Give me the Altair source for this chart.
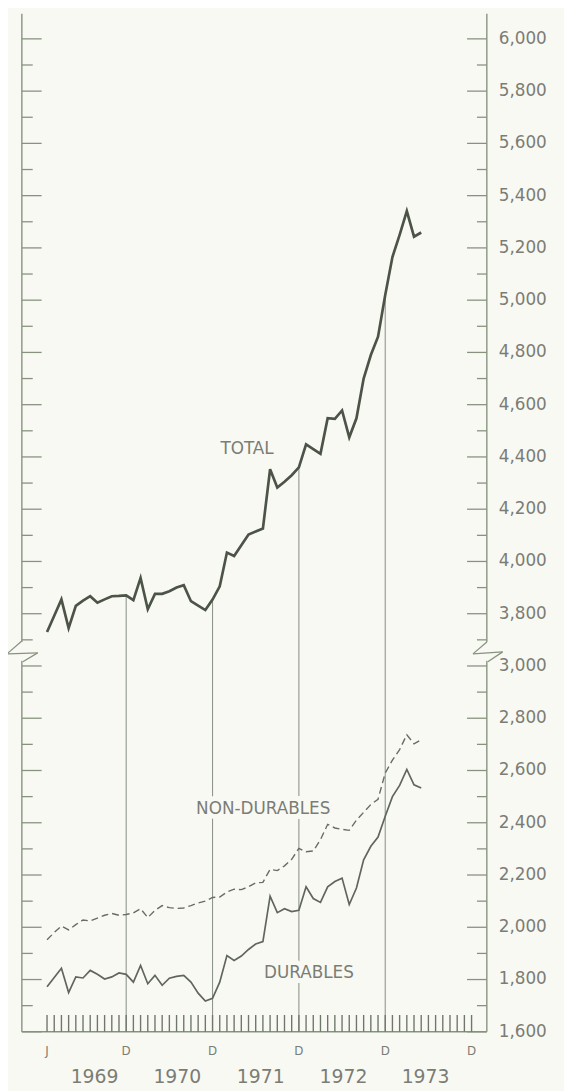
import altair as alt
import pandas as pd

# ---------------- data ----------------
# month index 0 = Jan 1969 ... 52 = May 1973
month_index = list(range(53))
total = [3730, 3792, 3855, 3745, 3830, 3850, 3867, 3842, 3855, 3867,
         3868, 3870, 3852, 3937, 3817, 3876, 3876, 3886, 3900, 3909,
         3848, 3831, 3814, 3854, 3905, 4034, 4021, 4062, 4103, 4115,
         4126, 4353, 4283, 4305, 4330, 4360, 4448, 4430, 4412, 4548,
         4546, 4578, 4475, 4548, 4700, 4790, 4860, 5020, 5165, 5250,
         5341, 5243, 5259]
non_durables = [1952, 1980, 2005, 1990, 2010, 2028, 2024, 2035, 2046, 2053,
                2046, 2049, 2055, 2071, 2037, 2065, 2083, 2075, 2072, 2074,
                2083, 2093, 2100, 2114, 2116, 2135, 2146, 2144, 2155, 2170,
                2172, 2222, 2217, 2235, 2260, 2302, 2289, 2292, 2335, 2394,
                2380, 2375, 2371, 2410, 2440, 2470, 2490, 2590, 2640, 2680,
                2737, 2702, 2718]
durables = [1772, 1808, 1843, 1750, 1810, 1806, 1835, 1820, 1802, 1810,
            1825, 1820, 1790, 1854, 1784, 1816, 1778, 1805, 1812, 1816,
            1790, 1748, 1718, 1728, 1790, 1892, 1873, 1890, 1915, 1936,
            1945, 2119, 2056, 2071, 2060, 2065, 2155, 2110, 2095, 2155,
            2175, 2188, 2087, 2150, 2258, 2310, 2345, 2425, 2500, 2543,
            2604, 2545, 2533]

BREAK_SHIFT = 600          # the upper scale (3,800+) is drawn 600 lower
december_months = [11, 23, 35, 47]

axis_label_values = [1600, 1800, 2000, 2200, 2400, 2600, 2800, 3000,
                     3200, 3400, 3600, 3800, 4000, 4200, 4400, 4600, 4800, 5000, 5200, 5400]
axis_label_texts = ["1,600", "1,800", "2,000", "2,200", "2,400", "2,600", "2,800", "3,000",
                    "3,800", "4,000", "4,200", "4,400", "4,600", "4,800", "5,000", "5,200",
                    "5,400", "5,600", "5,800", "6,000"]
major_ticks = axis_label_values
minor_ticks = [1700, 1900, 2100, 2300, 2500, 2700, 2900, 3100, 3300, 3500, 3700,
               3900, 4100, 4300, 4500, 4700, 4900, 5100, 5300]

month_letter_pos = [0, 11, 23, 35, 47, 59]
month_letters = ["J", "D", "D", "D", "D", "D"]
year_pos = [6.6, 18.1, 29.7, 41.2, 52.6]
year_labels = ["1969", "1970", "1971", "1972", "1973"]
tick_months = list(range(60))

series_label_text = ["TOTAL", "NON-DURABLES", "DURABLES"]
series_label_m = [27.8, 30.05, 36.4]
series_label_v = [3830, 2454, 1825]

# ---------------- styling ----------------
W, H = 470, 1029
BG = "#f9f9f4"
AXIS = "#87937f"
GRID = "#8f978b"
TXT = "#7b7d75"
FONT = "DejaVu Sans"

xs = alt.Scale(domain=[-3.5, 61.12], nice=False, zero=False)
ys = alt.Scale(domain=[1600, 5496], nice=False, zero=False)


def X(f, **kw):
    return alt.X(f, type="quantitative", scale=xs, axis=None, **kw)


def Y(f, **kw):
    return alt.Y(f, type="quantitative", scale=ys, axis=None, **kw)


df = pd.DataFrame({"m": month_index, "total": total, "nd": non_durables, "d": durables})
df["total_plot"] = df["total"] - BREAK_SHIFT
df["base"] = 1600
dec_df = df[df["m"].isin(december_months)]

one = pd.DataFrame({"a": [0]})

dec_rules = alt.Chart(dec_df).mark_rule(color=GRID, strokeWidth=1.1).encode(
    x=X("m"), y=Y("base"), y2="total_plot")

lab_df = pd.DataFrame({"t": series_label_text, "m": series_label_m, "v": series_label_v})
# paper-coloured halo behind the series labels (they interrupt the December lines)
bg_rects = alt.Chart(lab_df).mark_text(
    font=FONT, fontSize=17, color=BG, stroke=BG, strokeWidth=10, align="center",
    baseline="middle").encode(x=X("m"), y=Y("v"), text="t")

total_line = alt.Chart(df).mark_line(color="#4c5347", strokeWidth=2.7).encode(
    x=X("m"), y=Y("total_plot"))
nd_line = alt.Chart(df).mark_line(color="#676d62", strokeWidth=1.4, strokeDash=[7, 4]).encode(
    x=X("m"), y=Y("nd"))
d_line = alt.Chart(df).mark_line(color="#60665b", strokeWidth=1.7).encode(
    x=X("m"), y=Y("d"))

series_labels = alt.Chart(lab_df).mark_text(
    font=FONT, fontSize=17, color=TXT, align="center", baseline="middle").encode(
    x=X("m"), y=Y("v"), text="t")

# axes drawn by hand (ticks point inward)
left_axis = alt.Chart(one).mark_rule(color=AXIS, strokeWidth=1.4).encode(
    x=alt.value(0), y=alt.value(0), y2=alt.value(H))
right_axis = alt.Chart(one).mark_rule(color=AXIS, strokeWidth=1.4).encode(
    x=alt.value(W), y=alt.value(0), y2=alt.value(H))
bottom_axis = alt.Chart(one).mark_rule(color=AXIS, strokeWidth=1.4).encode(
    x=alt.value(0), x2=alt.value(W), y=alt.value(H))

maj_df = pd.DataFrame({"v": major_ticks})
min_df = pd.DataFrame({"v": minor_ticks})
lt_maj = alt.Chart(maj_df).mark_rule(color=AXIS, strokeWidth=1.3).encode(
    x=alt.value(0), x2=alt.value(20), y=Y("v"))
lt_min = alt.Chart(min_df).mark_rule(color=AXIS, strokeWidth=1.3).encode(
    x=alt.value(0), x2=alt.value(11), y=Y("v"))
rt_maj = alt.Chart(maj_df).mark_rule(color=AXIS, strokeWidth=1.3).encode(
    x=alt.value(W - 20), x2=alt.value(W), y=Y("v"))
rt_min = alt.Chart(min_df).mark_rule(color=AXIS, strokeWidth=1.3).encode(
    x=alt.value(W - 10), x2=alt.value(W), y=Y("v"))

ylab_df = pd.DataFrame({"v": axis_label_values, "t": axis_label_texts})
y_labels = alt.Chart(ylab_df).mark_text(
    font=FONT, fontSize=17, color=TXT, align="left", baseline="middle").encode(
    x=alt.value(W + 12), y=Y("v"), text="t")

mt_df = pd.DataFrame({"m": tick_months})
month_ticks = alt.Chart(mt_df).mark_rule(color="#6f776a", strokeWidth=1.4).encode(
    x=X("m"), y=alt.value(H), y2=alt.value(H - 17))

ml_df = pd.DataFrame({"m": month_letter_pos, "t": month_letters})
month_labels = alt.Chart(ml_df).mark_text(
    font=FONT, fontSize=12, color=TXT, align="center", baseline="middle").encode(
    x=X("m"), y=alt.value(H + 19), text="t")

yr_df = pd.DataFrame({"m": year_pos, "t": year_labels})
year_text = alt.Chart(yr_df).mark_text(
    font=FONT, fontSize=19, color=TXT, align="center", baseline="middle").encode(
    x=X("m"), y=alt.value(H + 46), text="t")


# axis-break zigzags
def seg(x1, y1, x2, y2):
    return alt.Chart(one).mark_rule(color=AXIS, strokeWidth=1.3).encode(
        x=alt.value(x1), y=alt.value(y1), x2=alt.value(x2), y2=alt.value(y2))


brk_y = 647
gap = alt.Chart(one).mark_rule(color=BG, strokeWidth=4).encode(
    x=alt.value(0), y=alt.value(brk_y - 12), y2=alt.value(brk_y + 7))
gap_r = alt.Chart(one).mark_rule(color=BG, strokeWidth=4).encode(
    x=alt.value(W), y=alt.value(brk_y - 12), y2=alt.value(brk_y + 7))
breaks = [gap, gap_r,
          seg(0, brk_y - 13, -15, brk_y), seg(-15, brk_y, 16, brk_y - 1), seg(16, brk_y - 1, 1, brk_y + 8),
          seg(W, brk_y - 12, W - 14, brk_y), seg(W - 14, brk_y, W + 16, brk_y - 2), seg(W + 16, brk_y - 2, W + 1, brk_y + 8)]

chart = alt.layer(
    dec_rules, bg_rects, nd_line, d_line, total_line, series_labels,
    left_axis, right_axis, bottom_axis, lt_maj, lt_min, rt_maj, rt_min,
    y_labels, month_ticks, month_labels, year_text, *breaks
).properties(
    width=W, height=H,
    autosize=alt.AutoSizeParams(type="none"),
    padding={"left": 14, "top": 0, "right": 78, "bottom": 54},
    background=BG,
).configure_view(stroke=None)

chart.save("out.html", embed_options={"renderer": "svg", "actions": False})
